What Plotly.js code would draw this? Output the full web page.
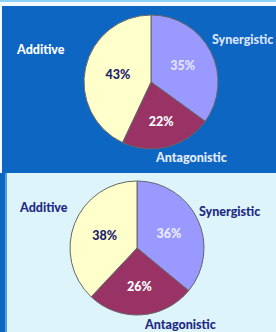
<!DOCTYPE html>
<html><head><meta charset="utf-8">
<script src="https://cdn.plot.ly/plotly-3.0.1.min.js"></script>
<style>html,body{margin:0;padding:0;overflow:hidden;}#chart{width:276px;height:332px;}</style>
</head><body><div id="chart"></div>
<script>
const categories = ["Synergistic", "Antagonistic", "Additive"];
const topValues = [35, 22, 43];
const bottomValues = [36, 26, 38];
const sliceColors = ["#9999ff", "#993366", "#ffffcc"];

const fontFam = "Lato, 'Open Sans', sans-serif";
const topPctColors = ["#e4e4ff", "#ffffff", "#1c1c6e"];
const botPctColors = ["#ececff", "#ffffff", "#1c1c6e"];

function pie(values, dom, pctColors) {
  return {
    type: "pie", labels: categories, values: values, sort: false,
    direction: "clockwise", rotation: 0, domain: dom,
    marker: {colors: sliceColors, line: {color: "#666666", width: 1}},
    textinfo: "percent", textposition: "inside",
    texttemplate: "%{percent:.0%}",
    insidetextfont: {family: fontFam, size: 12.5, color: pctColors, weight: 900},
    insidetextorientation: "horizontal",
    showlegend: false, hoverinfo: "label+percent"
  };
}

const data = [
  pie(topValues, {x: [84/276, 218/276], y: [1-149/332, 1-15/332]}, topPctColors),
  pie(bottomValues, {x: [70/276, 204/276], y: [1-315/332, 1-181/332]}, botPctColors)
];

function lab(text, x, y, color, anchor) {
  return {text: text, x: x/276, y: 1-y/332, xref: "paper", yref: "paper",
    showarrow: false, xanchor: anchor || "center", yanchor: "middle",
    font: {family: fontFam, size: 12.5, color: color, weight: 900}};
}
const annotations = [
  lab(categories[2], 40, 50, "#ffffff"),
  lab(categories[0], 242, 40, "#dde4ff"),
  lab(categories[1], 191, 157, "#e6ecff"),
  lab(categories[2], 44, 207, "#1f2a86"),
  lab(categories[0], 229, 212, "#1f2a86"),
  lab(categories[1], 180, 324, "#1f2a86")
];

const shapes = [
  {type: "rect", xref: "paper", yref: "paper", x0: 0, x1: 1, y0: 1-2/332, y1: 1, fillcolor: "#8fd0f5", line: {width: 0}, layer: "below"},
  {type: "rect", xref: "paper", yref: "paper", x0: 0, x1: 1, y0: 1-6/332, y1: 1-2/332, fillcolor: "#f4fbff", line: {width: 0}, layer: "below"},
  {type: "rect", xref: "paper", yref: "paper", x0: 0, x1: 2/276, y0: 1-173/332, y1: 1-6/332, fillcolor: "#f4fbff", line: {width: 0}, layer: "below"},
  {type: "rect", xref: "paper", yref: "paper", x0: 5/276, x1: 7/276, y0: 0, y1: 1-173/332, fillcolor: "#4f9fe0", line: {width: 0}, layer: "below"},
  {type: "rect", xref: "paper", yref: "paper", x0: 7/276, x1: 1, y0: 0, y1: 1-173/332, fillcolor: "#ddf5fa", line: {width: 0}, layer: "below"}
];

const layout = {
  width: 276, height: 332, margin: {l: 0, r: 0, t: 0, b: 0},
  paper_bgcolor: "#0d66c2", plot_bgcolor: "#0d66c2",
  annotations: annotations, shapes: shapes
};
Plotly.newPlot("chart", data, layout, {displayModeBar: false, staticPlot: true});
</script></body></html>
